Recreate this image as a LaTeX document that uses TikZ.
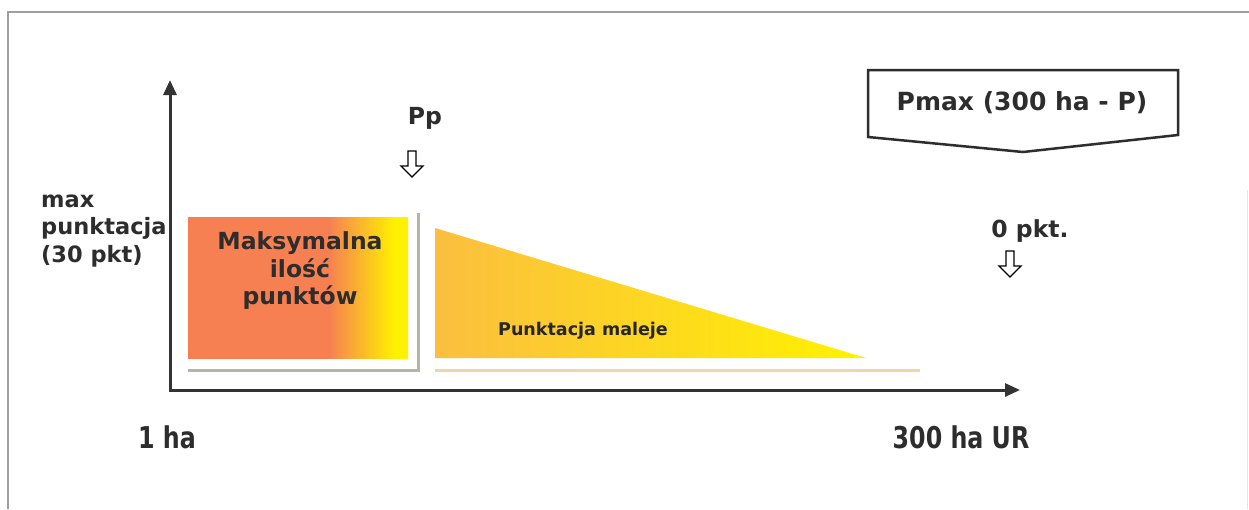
\documentclass[tikz,border=0pt]{standalone}
\usepackage{fontspec}
\setmainfont{DejaVu Sans}
\newfontfamily\condfont[FakeStretch=0.88]{DejaVu Sans Condensed}
\usetikzlibrary{arrows.meta}

\definecolor{coral}{RGB}{247,128,82}
\definecolor{hotyellow}{RGB}{255,242,0}
\definecolor{amber}{RGB}{251,190,64}
\definecolor{inkgray}{RGB}{45,45,45}
\definecolor{shadowgray}{RGB}{178,182,165}
\definecolor{beige}{RGB}{236,214,170}

% coral fill that turns yellow near the right edge
\pgfdeclarehorizontalshading{coraltoyellow}{100bp}{%
  color(0bp)=(coral); color(57bp)=(coral); color(72bp)=(hotyellow); color(100bp)=(hotyellow)}

\tikzset{
  lbl/.style={font=\bfseries\fontsize{23.5}{27.5}\selectfont, text=inkgray, inner sep=0pt},
  side/.style={font=\bfseries\fontsize{22.5}{27.5}\selectfont, text=inkgray, inner sep=0pt},
  big/.style={font=\bfseries\fontsize{25}{30}\selectfont, text=inkgray, inner sep=0pt},
  small/.style={font=\bfseries\fontsize{17.5}{21}\selectfont, text=black!85, inner sep=0pt},
  narrow/.style={font=\condfont\bfseries\fontsize{30}{34}\selectfont, text=inkgray, inner sep=0pt},
  axis/.style={line width=3pt, draw=black!80, {Triangle[length=15pt,width=13pt]}-{Triangle[length=15pt,width=13pt]}},
  frameline/.style={draw=gray!75, line width=1.3pt},
  shadowline/.style={line width=3pt},
  pics/hollowdown/.style={code={
    \draw[line width=1.3pt, line join=miter, fill=white]
      (-4,-13) -- (4,-13) -- (4,2) -- (11,2) -- (0,13) -- (-11,2) -- (-4,2) -- cycle;
  }}
}

\begin{document}
\begin{tikzpicture}[x=1pt,y=-1pt]
\useasboundingbox (0,0) rectangle (1249,509);
\fill[white] (0,0) rectangle (1249,509);

% outer frame
\draw[frameline] (8,509) -- (8,12) -- (1249,12);
\draw[gray!20, line width=1pt] (1247,190) -- (1247,509);

% block of maximum points with its shadow
\shade[shading=coraltoyellow] (188,217) rectangle (408,358);
\draw[shadowline, draw=shadowgray] (188,370) -- (418,370) -- (418,213);
\node[lbl, align=center] (maxpts) at (300,271) {Maksymalna\\ilość\\punktów};

% decreasing score wedge
\shade[left color=amber, right color=hotyellow] (435,228) -- (435,358) -- (866,358) -- cycle;
\draw[shadowline, draw=beige] (435,370) -- (920,370);
\node[small] (decr) at (583,331) {Punktacja maleje};

% axes
\coordinate (origin) at (170,390);
\coordinate (ytop) at (170,80);
\coordinate (xend) at (1020,390);
\draw[axis] (ytop) -- (origin) -- (xend);

% axis labels
\node[side, align=left, anchor=west] (ylab) at (41,231) {max\\punktacja\\(30 pkt)};
\node[narrow] (xmin) at (167,437) {1 ha};
\node[narrow] (xmax) at (961,437) {300 ha UR};

% markers
\node[lbl] (pp) at (425,118) {Pp};
\pic at (412,164) {hollowdown};
\node[lbl] (zero) at (1030,231) {0 pkt.};
\pic at (1010,264) {hollowdown};

% formula callout
\draw[line width=2.5pt, draw=inkgray, line join=miter, fill=white]
  (868,70) -- (1178,70) -- (1178,135) -- (1023,152) -- (868,137) -- cycle;
\node[big] (pmax) at (1022,103) {Pmax (300 ha - P)};
\end{tikzpicture}
\end{document}
